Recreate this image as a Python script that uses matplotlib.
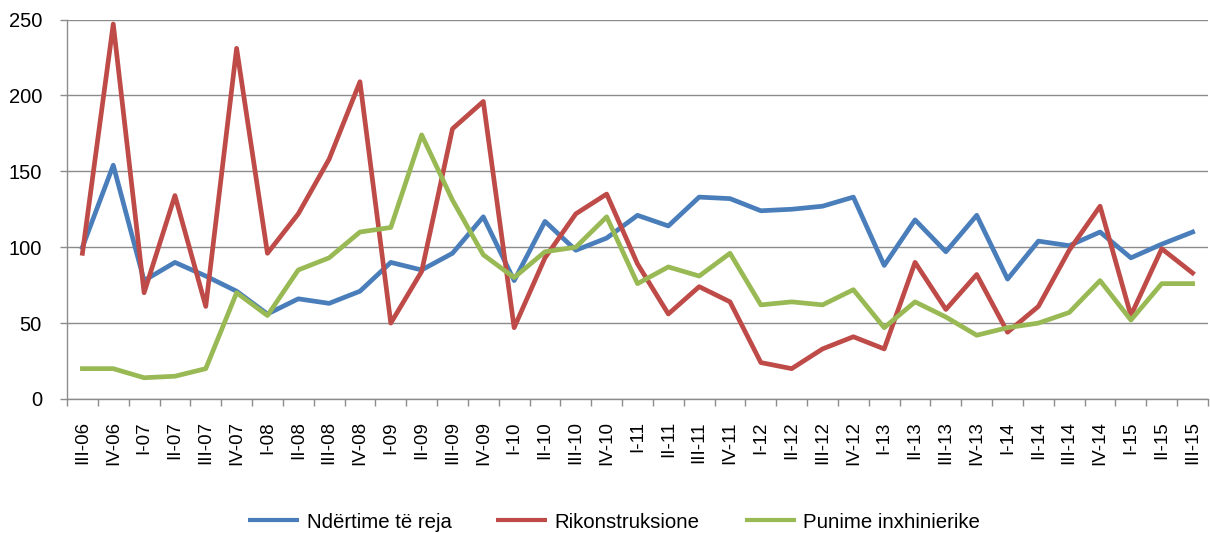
import numpy as np
import matplotlib
matplotlib.use("Agg")
import matplotlib.pyplot as plt
from matplotlib.ticker import FixedLocator

plt.rcParams['font.family'] = ['Liberation Sans', 'DejaVu Sans']

# quarter labels
quarters = ["III-06", "IV-06",
            "I-07", "II-07", "III-07", "IV-07",
            "I-08", "II-08", "III-08", "IV-08",
            "I-09", "II-09", "III-09", "IV-09",
            "I-10", "II-10", "III-10", "IV-10",
            "I-11", "II-11", "III-11", "IV-11",
            "I-12", "II-12", "III-12", "IV-12",
            "I-13", "II-13", "III-13", "IV-13",
            "I-14", "II-14", "III-14", "IV-14",
            "I-15", "II-15", "III-15"]

ndertime_reja = [100, 154, 78, 90, 81, 71, 56, 66, 63, 71,
                 90, 85, 96, 120, 78, 117, 98, 106,
                 121, 114, 133, 132, 124, 125, 127, 133,
                 88, 118, 97, 121, 79, 104, 101, 110,
                 93, 102, 110]
rikonstruksione = [96, 247, 70, 134, 61, 231, 96, 122, 158, 209,
                   50, 84, 178, 196, 47, 93, 122, 135,
                   89, 56, 74, 64, 24, 20, 33, 41,
                   33, 90, 59, 82, 44, 61, 98, 127,
                   55, 99, 83]
punime_inxh = [20, 20, 14, 15, 20, 70, 55, 85, 93, 110,
               113, 174, 131, 95, 80, 97, 100, 120,
               76, 87, 81, 96, 62, 64, 62, 72,
               47, 64, 54, 42, 47, 50, 57, 78,
               52, 76, 76]

series_names = ["Ndërtime të reja", "Rikonstruksione", "Punime inxhinierike"]
colors = ["#4A7EBB", "#BE4B48", "#98B954"]

fig = plt.figure(figsize=(12.10, 5.33), dpi=100)
ax = fig.add_axes([67 / 1210, 1 - 399 / 533, 1141 / 1210, 379.5 / 533])

x = np.arange(len(quarters))
for vals, name, c in zip([ndertime_reja, rikonstruksione, punime_inxh], series_names, colors):
    ax.plot(x, vals, color=c, lw=3.4, label=name, solid_joinstyle='round')

ax.set_xlim(-0.5, len(quarters) - 0.5)
ax.set_ylim(0, 250)
ax.set_yticks(range(0, 251, 50))
ax.yaxis.grid(True, color='#8C8C8C', lw=1)
ax.set_axisbelow(True)

# category ticks between points, labels at points
ax.xaxis.set_major_locator(FixedLocator(np.arange(-0.5, len(quarters), 1)))
ax.xaxis.set_minor_locator(FixedLocator(x))
ax.set_xticklabels([])
ax.set_xticklabels(quarters, minor=True, rotation=90, fontsize=13.5, va='top', ha='center')
ax.tick_params(axis='x', which='major', length=5, color='#8C8C8C', width=1)
ax.tick_params(axis='x', which='minor', length=0, pad=16)
ax.tick_params(axis='y', length=5, color='#8C8C8C', width=1, labelsize=14.5, pad=13)

for s in ['top', 'right']:
    ax.spines[s].set_visible(False)
for s in ['left', 'bottom']:
    ax.spines[s].set_color('#8C8C8C')
    ax.spines[s].set_linewidth(1)

leg = fig.legend(loc='center', bbox_to_anchor=(614 / 1210, 1 - 522 / 533), ncol=3,
                 frameon=False, fontsize=14.7, handlelength=2.5, columnspacing=2.2,
                 handletextpad=0.35)
for h in leg.get_lines():
    h.set_linewidth(3)
    h.set_solid_capstyle('butt')

fig.savefig("out.png", dpi=100)
